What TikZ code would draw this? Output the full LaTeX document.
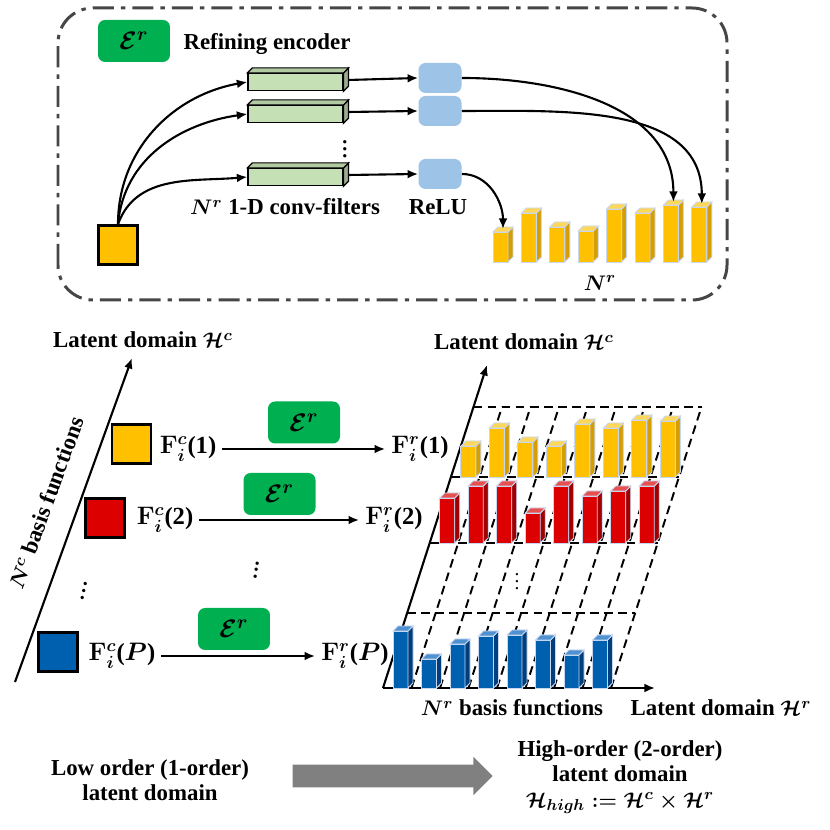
\documentclass[tikz,border=0pt]{standalone}
\usepackage{amsmath}
\usepackage{fontspec}
\setmainfont{Liberation Serif}
\usepackage{tikz}
\usetikzlibrary{arrows.meta,calc,shapes.arrows}
\definecolor{encgreen}{RGB}{0,176,80}
\definecolor{filtgreen}{RGB}{197,224,180}
\definecolor{relublue}{RGB}{157,195,230}
\definecolor{framegray}{RGB}{70,70,70}
\definecolor{arrgray}{RGB}{128,128,128}
\definecolor{yelF}{RGB}{255,192,0}
\definecolor{yelS}{RGB}{214,158,0}
\definecolor{yelT}{RGB}{255,215,90}
\definecolor{redF}{RGB}{220,0,0}
\definecolor{redS}{RGB}{160,0,0}
\definecolor{redT}{RGB}{232,80,80}
\definecolor{bluF}{RGB}{0,96,176}
\definecolor{bluS}{RGB}{0,62,125}
\definecolor{bluT}{RGB}{80,145,210}
\definecolor{glow}{RGB}{200,215,240}

% 3-D bar: left x, base y, height, colour prefix
\newcommand{\cubebar}[4]{%
  \filldraw[#4F, draw=glow, line width=0.5pt] (#1,#2) rectangle (#1+15,#2+#3);
  \filldraw[#4S, draw=glow, line width=0.5pt] (#1+15,#2) -- (#1+20,#2+5) -- (#1+20,#2+#3+5) -- (#1+15,#2+#3) -- cycle;
  \filldraw[#4T, draw=glow, line width=0.5pt] (#1,#2+#3) -- (#1+5,#2+#3+5) -- (#1+20,#2+#3+5) -- (#1+15,#2+#3) -- cycle;
}
% depth faces of a conv filter
\newcommand{\filterdepth}[1]{%
  \filldraw[fill=filtgreen!70!black!85, line width=0.7pt] (#1.north east) -- ++(5,5) -- ($(#1.south east)+(5,5)$) -- (#1.south east) -- cycle;
  \filldraw[fill=filtgreen!90!black, line width=0.7pt] (#1.north west) -- ++(5,5) -- ($(#1.north east)+(5,5)$) -- (#1.north east) -- cycle;
}

\begin{document}
\begin{tikzpicture}[x=0.02cm, y=0.02cm,
    lbl/.style={font=\fontsize{13}{14.5}\selectfont\bfseries\boldmath, align=center},
    flbl/.style={font=\fontsize{14}{15}\selectfont\bfseries\boldmath},
    dots/.style={font=\fontsize{16}{17}\selectfont\boldmath, inner sep=0pt},
    encbox/.style={fill=encgreen, rounded corners=4pt, minimum width=1.44cm, minimum height=0.84cm, font=\fontsize{15}{16}\selectfont\boldmath},
    filt/.style={draw, fill=filtgreen, line width=0.7pt, minimum width=1.9cm, minimum height=0.34cm, inner sep=0pt},
    relu/.style={fill=relublue, rounded corners=4pt, minimum width=0.86cm, minimum height=0.6cm},
    basis/.style={draw, line width=1.5pt, minimum size=0.78cm, inner sep=0pt},
    arr/.style={-{Latex[length=6pt,width=5pt]}, line width=1.2pt},
    gridline/.style={dash pattern=on 5pt off 3pt, line width=1.1pt}]
    \useasboundingbox (0,0) rectangle (830,830);

    % Refining encoder
    \draw[framegray, line width=1.7pt, rounded corners=0.7cm, dash pattern=on 12pt off 4pt on 2.5pt off 4pt]
        (58,530) rectangle (727,822);
    \node[encbox] (enc) at (134,789) {$\mathcal{E}^r$};
    \node[lbl] (enctxt) at (267,786) {Refining encoder};

    \node[filt] (f1) at (295.5,748) {};
    \node[filt] (f2) at (295.5,716) {};
    \node[filt] (f3) at (295.5,653) {};
    \filterdepth{f1}
    \filterdepth{f2}
    \filterdepth{f3}
    \node[dots] (fdots) at (345,686) {$\vdots$};

    \node[relu] (relu1) at (440,752) {};
    \node[relu] (relu2) at (440,719) {};
    \node[relu] (relu3) at (440,656) {};

    \node[lbl] (ftxt) at (285,623) {$N^r$ 1-D conv-filters};
    \node[lbl] (rtxt) at (438,623) {ReLU};

    \node[basis, fill=yelF] (sq) at (118,585) {};

    \draw[arr] (sq.north) to[out=90, in=190] (f1.west);
    \draw[arr] (sq.north) to[out=85, in=188] (f2.west);
    \draw[arr] (sq.north) to[out=70, in=185] (f3.west);

    \draw[arr] ($(f1.east)+(5,2)$) -- (relu1.west);
    \draw[arr] ($(f2.east)+(5,2)$) -- (relu2.west);
    \draw[arr] ($(f3.east)+(5,2)$) -- (relu3.west);

    \foreach \h [count=\k, evaluate=\k as \bx using 493+(\k-1)*28.4] in {30,49,35,31,53,49,57,55} {
        \cubebar{\bx}{568}{\h}{yel}
        \coordinate (tb\k) at (\bx+10,568+\h+3);
    }
    \node[lbl] (nrtxt) at (600,547) {$N^r$};

    \draw[arr] (relu1.east) to[out=0, in=90] (tb7);
    \draw[arr] (relu2.east) to[out=0, in=90] (tb8);
    \draw[arr] (relu3.east) to[out=0, in=90] (tb1);

    % Low order domain
    \coordinate (oL) at (15,148);
    \coordinate (tL) at (132,472);
    \draw[arr] (oL) -- (tL);
    \node[lbl] (hcL) at (143,490) {Latent domain $\mathcal{H}^c$};
    \node[lbl, rotate=70] (ncL) at (46,327) {$N^c$ basis functions};

    \node[basis, fill=yelF] (sq1) at (131.5,386) {};
    \node[basis, fill=redF] (sq2) at (105,312) {};
    \node[basis, fill=bluF] (sqP) at (58,178) {};
    \node[dots, rotate=-12] (ldots) at (85,244) {$\vdots$};

    \node[flbl] (fc1) at (188,381) {$\mathbf{F}_i^c$(1)};
    \node[flbl] (fc2) at (165,310) {$\mathbf{F}_i^c$(2)};
    \node[flbl] (fcP) at (122,174) {$\mathbf{F}_i^c$($P$)};

    \node[flbl] (fr1) at (420,381) {$\mathbf{F}_i^r$(1)};
    \node[flbl] (fr2) at (394,310) {$\mathbf{F}_i^r$(2)};
    \node[flbl] (frP) at (355,174) {$\mathbf{F}_i^r$($P$)};

    \node[encbox] (enc1) at (304,407.5) {$\mathcal{E}^r$};
    \node[encbox] (enc2) at (279.5,336) {$\mathcal{E}^r$};
    \node[encbox] (encP) at (234,201) {$\mathcal{E}^r$};
    \node[dots, rotate=-8] (mdots) at (257,265) {$\vdots$};

    \draw[arr] (fc1) -- (fr1);
    \draw[arr] (fc2) -- (fr2);
    \draw[arr] (fcP) -- (frP);

    % High order domain
    \foreach \yy in {423,353,287,217} {
        \draw[gridline] (383+\yy*0.322-45.7,\yy) -- (383+\yy*0.322-45.7+228,\yy);
    }
    \foreach \k in {1,...,8} {
        \draw[gridline] (383+\k*28.5,142) -- (383+\k*28.5+90.5,423);
    }
    \node[dots, font=\fontsize{11}{12}\selectfont\boldmath] (gdots) at (517,254) {$\vdots$};

    \coordinate (oR) at (383,142);
    \coordinate (tR) at (487,465);
    \coordinate (eR) at (655,142);
    \draw[arr] (oR) -- (tR);
    \draw[arr] (oR) -- (eR);
    \node[lbl] (hcR) at (524,488) {Latent domain $\mathcal{H}^c$};
    \node[lbl] (nrR) at (512,122) {$N^r$ basis functions};
    \node[lbl] (hrR) at (721,122) {Latent domain $\mathcal{H}^r$};

    \foreach \h [count=\k from 0] in {31,49,35,31,53,49,57,56} {
        \cubebar{460.9+\k*28.5}{353}{\h}{yel}
    }
    \foreach \h [count=\k from 0] in {45,57,57,30,57,47,52,57} {
        \cubebar{439.7+\k*28.5}{287}{\h}{red}
    }
    \foreach \h [count=\k from 0] in {57,29,44,52,53,48,33,48} {
        \cubebar{393+\k*28.5}{142}{\h}{blu}
    }

    % Bottom captions
    \node[lbl] (lowtxt) at (150,50) {Low order (1-order)\\latent domain};
    \node[single arrow, fill=arrgray, inner sep=0pt, inner ysep=0.22cm, minimum height=4cm,
        single arrow head extend=0.16cm, single arrow head indent=0pt] (bigarr) at (387,54) {};
    \node[lbl] (hightxt) at (620,53) {High-order (2-order)\\latent domain\\$\mathcal{H}_{high} := \mathcal{H}^c \times \mathcal{H}^r$};
\end{tikzpicture}
\end{document}
